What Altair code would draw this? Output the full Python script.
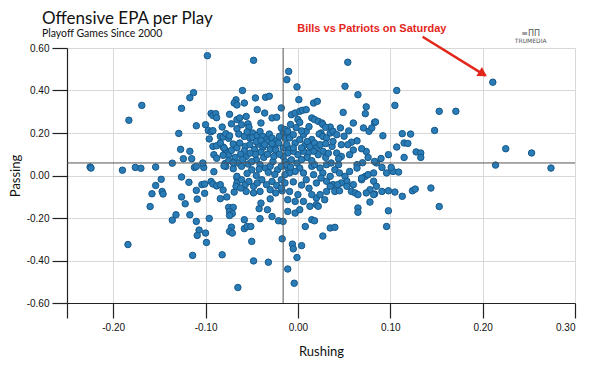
import altair as alt
import pandas as pd

# (rushing, passing) EPA per play
left_pts = [
    (-0.098, 0.564), (-0.113, 0.39), (-0.117, 0.366), (-0.169, 0.33), (-0.126, 0.316), (-0.183, 0.26),
    (-0.129, 0.198), (-0.110, 0.234), (-0.100, 0.239), (-0.097, 0.212), (-0.094, 0.206), (-0.092, 0.211),
    (-0.096, 0.172), (-0.094, 0.292), (-0.092, 0.282), (-0.089, 0.291), (-0.127, 0.123), (-0.117, 0.114),
    (-0.124, 0.079), (-0.115, 0.079), (-0.091, 0.098), (-0.092, 0.137), (-0.225, 0.04), (-0.224, 0.035),
    (-0.190, 0.025), (-0.176, 0.038), (-0.170, 0.034), (-0.154, 0.04), (-0.136, 0.058), (-0.112, 0.038),
    (-0.110, 0.042), (-0.102, 0.038), (-0.103, 0.059), (-0.091, 0.018), (-0.148, -0.018), (-0.154, -0.047),
    (-0.158, -0.086), (-0.147, -0.075), (-0.146, -0.087), (-0.160, -0.146), (-0.126, -0.007), (-0.118, -0.032),
    (-0.110, -0.07), (-0.109, -0.111), (-0.126, -0.101), (-0.122, -0.133), (-0.104, -0.043), (-0.101, -0.04),
    (-0.094, -0.028), (-0.092, -0.04), (-0.101, -0.084), (-0.132, -0.185), (-0.136, -0.21), (-0.117, -0.185),
    (-0.110, -0.216), (-0.107, -0.257), (-0.109, -0.282), (-0.100, -0.271), (-0.096, -0.202), (-0.099, -0.315),
    (-0.114, -0.376), (-0.184, -0.325),
]

midleft_pts = [
    (-0.088, 0.272), (-0.082, 0.228), (-0.074, 0.288), (-0.067, 0.356), (-0.069, 0.341), (-0.066, 0.332),
    (-0.072, 0.243), (-0.066, 0.263), (-0.084, 0.184), (-0.081, 0.181), (-0.078, 0.197), (-0.075, 0.175),
    (-0.074, 0.187), (-0.088, 0.14), (-0.081, 0.134), (-0.079, 0.122), (-0.077, 0.109), (-0.075, 0.098),
    (-0.088, 0.081), (-0.079, 0.056), (-0.078, 0.043), (-0.060, 0.40), (-0.058, 0.341), (-0.046, 0.365),
    (-0.035, 0.368), (-0.031, 0.373), (-0.048, 0.542), (-0.063, 0.271), (-0.056, 0.278), (-0.044, 0.31),
    (-0.036, 0.294), (-0.061, 0.239), (-0.054, 0.243), (-0.053, 0.227), (-0.040, 0.247), (-0.049, 0.20),
    (-0.066, 0.22), (-0.064, 0.195), (-0.058, 0.184), (-0.055, 0.205), (-0.052, 0.176), (-0.049, 0.179),
    (-0.044, 0.189), (-0.041, 0.207), (-0.038, 0.184), (-0.034, 0.169), (-0.084, 0.153), (-0.080, 0.13),
    (-0.072, 0.118), (-0.070, 0.148), (-0.066, 0.13), (-0.063, 0.153), (-0.057, 0.137), (-0.052, 0.145),
    (-0.047, 0.122), (-0.043, 0.148), (-0.038, 0.132), (-0.033, 0.158), (-0.081, 0.095), (-0.075, 0.07),
    (-0.080, 0.045), (-0.070, 0.032), (-0.065, 0.059), (-0.061, 0.043), (-0.056, 0.09), (-0.054, 0.054),
    (-0.050, 0.027), (-0.045, 0.074), (-0.041, 0.051), (-0.037, 0.085), (-0.035, 0.035),
    (-0.081, -0.068), (-0.077, -0.101), (-0.084, -0.109), (-0.069, -0.078), (-0.088, -0.049), (-0.084, -0.043),
    (-0.075, -0.15), (-0.070, -0.15), (-0.074, -0.169), (-0.071, -0.179), (-0.074, -0.188), (-0.072, -0.243),
    (-0.074, -0.263), (-0.071, -0.271), (-0.066, -0.012), (-0.066, -0.035), (-0.067, -0.051), (-0.065, -0.527),
    (-0.082, -0.373), (-0.066, -0.004), (-0.061, -0.02), (-0.057, -0.043), (-0.053, -0.028), (-0.048, -0.051),
    (-0.044, -0.035), (-0.039, -0.02), (-0.034, -0.043), (-0.056, -0.075), (-0.048, -0.082), (-0.041, -0.075),
    (-0.062, -0.059), (-0.058, -0.208), (-0.058, -0.25), (-0.055, -0.24), (-0.051, -0.24), (-0.050, -0.31),
    (-0.042, -0.156), (-0.041, -0.203), (-0.033, -0.161), (-0.048, -0.402), (-0.032, -0.408),
]

center_pts = [
    (-0.028, 0.271), (-0.023, 0.274), (-0.018, 0.318), (-0.010, 0.49), (-0.012, 0.451), (-0.001, 0.417),
    (0.001, 0.357), (0.017, 0.341), (0.021, 0.349), (-0.007, 0.286), (-0.003, 0.294), (0.002, 0.302),
    (0.005, 0.307), (0.009, 0.31), (0.000, 0.263), (0.002, 0.25), (0.015, 0.271), (0.018, 0.263),
    (0.022, 0.255), (0.026, 0.247), (0.035, 0.228), (0.049, 0.297), (0.027, 0.24), (0.030, 0.227),
    (0.025, 0.20), (0.023, 0.195), (0.027, 0.184), (0.031, 0.177), (0.035, 0.20), (0.038, 0.208),
    (0.046, 0.224), (0.042, 0.192), (0.037, 0.137), (0.042, 0.106), (0.047, 0.09), (0.044, 0.079),
    (0.047, 0.145), (-0.031, 0.195), (-0.028, 0.176), (-0.024, 0.161), (-0.020, 0.184), (-0.016, 0.207),
    (-0.014, 0.176), (-0.010, 0.192), (-0.030, 0.122), (-0.025, 0.137), (-0.021, 0.153), (-0.016, 0.13),
    (-0.012, 0.145), (-0.009, 0.122), (-0.030, 0.043), (-0.027, 0.066), (-0.022, 0.027), (-0.018, 0.043),
    (-0.014, 0.066), (-0.011, 0.035), (-0.018, 0.224), (-0.014, 0.216), (-0.011, 0.208), (-0.009, 0.177),
    (-0.005, 0.192), (-0.003, 0.153), (0.002, 0.169), (0.006, 0.192), (0.009, 0.208), (0.008, 0.145),
    (0.013, 0.137), (0.015, 0.169), (0.018, 0.153), (0.020, 0.129), (0.024, 0.145), (0.027, 0.114),
    (0.022, 0.098), (0.017, 0.114), (0.011, 0.106), (0.006, 0.114), (0.000, 0.098), (-0.005, 0.114),
    (-0.011, 0.106), (-0.016, 0.09), (-0.012, 0.05), (-0.007, 0.074), (-0.001, 0.058), (0.002, 0.035),
    (-0.003, 0.019), (-0.009, 0.012), (-0.014, 0.004), (-0.018, -0.02), (0.006, 0.012), (0.009, -0.02),
    (0.015, 0.043), (0.018, 0.051), (0.024, 0.035), (0.027, 0.012), (0.031, 0.051), (0.036, 0.059),
    (0.040, 0.027), (0.044, 0.051), (0.017, 0.004), (0.020, -0.035), (0.025, -0.012), (0.031, -0.027),
    (0.035, -0.004), (0.038, -0.043), (-0.028, -0.028), (-0.023, -0.047), (-0.030, -0.067), (-0.024, -0.082),
    (-0.017, -0.072), (-0.014, -0.035), (-0.028, -0.193), (-0.021, -0.213), (-0.011, -0.169), (-0.017, -0.298),
    (-0.018, -0.059), (-0.009, -0.075), (-0.011, -0.114), (-0.003, -0.122), (0.006, -0.122), (-0.003, -0.177),
    (0.002, -0.161), (0.013, -0.145), (0.020, -0.106), (0.024, -0.09), (0.029, -0.114), (0.031, -0.075),
    (0.035, -0.051), (0.040, -0.075), (0.045, -0.072), (0.020, -0.137), (0.022, -0.145), (-0.016, -0.216),
    (0.015, -0.208), (0.018, -0.213), (0.008, -0.24), (0.035, -0.247), (0.040, -0.244), (0.027, -0.285),
    (-0.006, -0.323), (-0.005, -0.345), (0.004, -0.33), (-0.011, -0.44), (-0.004, -0.507), (-0.001, -0.386),
]

dense_pts = [
    (-0.045, 0.16), (-0.040, 0.165), (-0.036, 0.145), (-0.028, 0.15), (-0.024, 0.12), (-0.020, 0.10),
    (-0.026, 0.09), (-0.033, 0.10), (-0.040, 0.11), (-0.046, 0.10), (-0.052, 0.105), (-0.058, 0.115),
    (-0.062, 0.10), (-0.068, 0.085), (-0.070, 0.06), (-0.060, 0.075), (-0.050, 0.065), (-0.042, 0.03),
    (-0.032, 0.015), (-0.025, 0.005), (-0.045, 0.0), (-0.055, 0.01), (-0.005, 0.13), (0.004, 0.13),
    (0.010, 0.16), (0.004, 0.21), (-0.002, 0.225), (0.012, 0.23), (-0.008, 0.24), (0.010, 0.085),
    (0.015, 0.07), (0.004, 0.075), (0.030, 0.085), (0.033, 0.105), (0.038, 0.16), (0.050, 0.185),
    (0.055, 0.21), (0.030, 0.15), (-0.008, 0.04), (0.004, -0.045), (0.012, -0.06), (-0.005, -0.03),
    (0.000, -0.09), (0.015, -0.09), (-0.030, -0.11), (-0.040, -0.13), (0.060, 0.12), (0.070, 0.06),
    (0.090, 0.08),
]

right_pts = [
    (0.054, 0.533), (0.051, 0.42), (0.065, 0.38), (0.107, 0.40), (0.105, 0.33), (0.074, 0.323),
    (0.073, 0.291), (0.060, 0.247), (0.083, 0.25), (0.092, 0.187), (0.098, 0.098), (0.107, 0.134),
    (0.071, 0.224), (0.077, 0.208), (0.080, 0.224), (0.084, 0.252), (0.074, 0.113), (0.076, 0.085),
    (0.069, 0.126), (0.064, 0.163), (0.058, 0.157), (0.054, 0.145), (0.056, 0.098), (0.045, 0.012),
    (0.051, -0.004), (0.053, -0.027), (0.047, -0.035), (0.043, -0.043), (0.056, 0.019), (0.064, 0.051),
    (0.064, 0.035), (0.069, -0.02), (0.073, -0.004), (0.076, 0.004), (0.082, 0.012), (0.085, 0.059),
    (0.083, 0.066), (0.091, 0.038), (0.096, 0.012), (0.103, 0.019), (0.109, 0.016), (0.060, -0.043),
    (0.053, -0.051), (0.058, -0.075), (0.062, -0.082), (0.065, -0.09), (0.078, -0.067), (0.083, -0.087),
    (0.078, -0.125), (0.098, -0.072), (0.105, -0.078), (0.098, -0.166), (0.096, -0.24), (0.065, -0.153),
    (0.065, -0.173), (0.153, 0.302), (0.171, 0.302), (0.148, 0.212), (0.113, 0.197), (0.122, 0.195),
    (0.115, 0.153), (0.119, 0.151), (0.115, 0.085), (0.128, 0.111), (0.133, 0.106), (0.133, 0.085),
    (0.101, 0.038), (0.113, -0.098), (0.124, -0.072), (0.127, -0.064), (0.144, -0.059), (0.153, -0.146),
    (0.211, 0.439), (0.225, 0.126), (0.253, 0.106), (0.214, 0.049), (0.274, 0.035),
    (0.069, -0.012), (0.082, -0.027), (0.085, -0.051), (0.091, -0.075), (0.074, -0.082), (0.082, -0.09),
]

x_ticks = [-0.25, -0.2, -0.1, 0.0, 0.1, 0.2, 0.3]
y_ticks = [-0.6, -0.4, -0.2, 0.0, 0.2, 0.4, 0.6]
x_domain = [-0.25, 0.30]
y_domain = [-0.6, 0.6]
ref_rushing = [-0.016]
ref_passing = [0.059]

note_text = ["Bills vs Patriots on Saturday"]
note_pos = [(0.080, 0.689)]
arrow_from = [(0.135, 0.653)]
arrow_to = [(0.203, 0.47)]
arrow_head = [(0.199, 0.482)]
logo_text = ["TRUMEDIA"]
logo_pos = [(0.252, 0.632)]
logo_icon = ["\u2261\u03a0\u03a0"]
logo_icon_pos = [(0.252, 0.668)]

pts = left_pts + midleft_pts + center_pts + dense_pts + right_pts
df = pd.DataFrame(pts, columns=["rushing", "passing"])

xs = alt.Scale(domain=x_domain, nice=False, zero=False)
ys = alt.Scale(domain=y_domain, nice=False, zero=False)

minus_fix = "replace(format(datum.value, '.2f'), '\u2212', '-')"

x_axis = alt.Axis(
    values=x_ticks, title="Rushing",
    labelExpr="datum.value < -0.22 ? '' : " + minus_fix,
    tickSize=15, tickColor="#222", domainColor="#222", tickWidth=1.2, domainWidth=1.2,
    labelFont="Liberation Sans", labelFontSize=10, labelColor="#111", labelPadding=4,
    titleFont="Lato", titleFontSize=13, titleFontWeight="normal", titleColor="#111", titlePadding=13,
    grid=True, gridColor="#d8d8d8", gridWidth=1,
)
y_axis = alt.Axis(
    values=y_ticks, title="Passing",
    labelExpr=minus_fix,
    tickSize=15, tickColor="#222", domainColor="#222", tickWidth=1.2, domainWidth=1.2,
    labelFont="Liberation Sans", labelFontSize=10, labelColor="#111", labelPadding=3,
    titleFont="Lato", titleFontSize=13, titleFontWeight="normal", titleColor="#111", titlePadding=4,
    grid=True, gridColor="#d8d8d8", gridWidth=1,
)

points = alt.Chart(df).mark_circle(
    size=42, color="#2a7cb6", stroke="#16588a", strokeWidth=1, opacity=1
).encode(
    x=alt.X("rushing:Q", scale=xs, axis=x_axis),
    y=alt.Y("passing:Q", scale=ys, axis=y_axis),
)

vline = alt.Chart(pd.DataFrame({"x": ref_rushing})).mark_rule(color="#555", strokeWidth=1).encode(
    x=alt.X("x:Q", scale=xs)
)
hline = alt.Chart(pd.DataFrame({"y": ref_passing})).mark_rule(color="#555", strokeWidth=1).encode(
    y=alt.Y("y:Q", scale=ys)
)

note_df = pd.DataFrame({"t": note_text, "x": [p[0] for p in note_pos], "y": [p[1] for p in note_pos]})
note = alt.Chart(note_df).mark_text(
    font="Liberation Sans", fontSize=11, fontWeight="bold", color="#e3261c", align="center", baseline="middle"
).encode(x=alt.X("x:Q", scale=xs), y=alt.Y("y:Q", scale=ys), text="t:N")

arrow_df = pd.DataFrame({
    "x": [arrow_from[0][0]], "y": [arrow_from[0][1]],
    "x2": [arrow_to[0][0]], "y2": [arrow_to[0][1]],
})
arrow = alt.Chart(arrow_df).mark_rule(color="#e3261c", strokeWidth=2.5).encode(
    x=alt.X("x:Q", scale=xs), y=alt.Y("y:Q", scale=ys), x2="x2:Q", y2="y2:Q"
)
head_df = pd.DataFrame({"x": [arrow_head[0][0]], "y": [arrow_head[0][1]]})
head = alt.Chart(head_df).mark_point(
    shape="triangle", filled=True, color="#e3261c", size=110, angle=122, opacity=1
).encode(x=alt.X("x:Q", scale=xs), y=alt.Y("y:Q", scale=ys))

logo_df = pd.DataFrame({"t": logo_text, "x": [logo_pos[0][0]], "y": [logo_pos[0][1]]})
logo = alt.Chart(logo_df).mark_text(
    font="DejaVu Sans", fontSize=6, color="#555", align="center", baseline="middle"
).encode(x=alt.X("x:Q", scale=xs), y=alt.Y("y:Q", scale=ys), text="t:N")
icon_df = pd.DataFrame({"t": logo_icon, "x": [logo_icon_pos[0][0]], "y": [logo_icon_pos[0][1]]})
icon = alt.Chart(icon_df).mark_text(
    font="DejaVu Sans", fontSize=8, color="#555", align="center", baseline="middle"
).encode(x=alt.X("x:Q", scale=xs), y=alt.Y("y:Q", scale=ys), text="t:N")

chart = alt.layer(points, vline, hline, arrow, head, note, logo, icon).properties(
    width=508, height=255,
    padding={"left": 59, "top": 40, "right": 17, "bottom": 57},
    autosize=alt.AutoSizeParams(type="none"),
    title=alt.TitleParams(
        "Offensive EPA per Play", subtitle="Playoff Games Since 2000",
        anchor="start", frame="group", font="Lato", fontSize=17, fontWeight="normal", color="#111",
        subtitleFont="Lato", subtitleFontSize=10.5, subtitleColor="#111", subtitlePadding=1,
        dx=-25, offset=-17,
    ),
).configure_view(stroke=None).configure(background="white")

chart.save("out.html", embed_options={"renderer": "svg", "actions": False})
